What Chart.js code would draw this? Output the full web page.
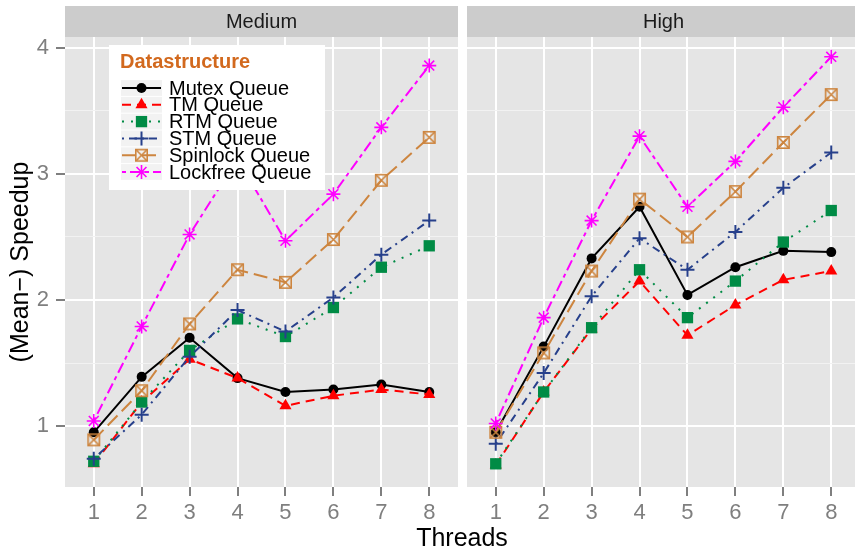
<!DOCTYPE html>
<html><head><meta charset="utf-8">
<script src="https://cdn.jsdelivr.net/npm/chart.js@4/dist/chart.umd.min.js"></script>
<style>
html,body{margin:0;padding:0;background:#fff;overflow:hidden;width:855px;height:549px;}
#wrap{position:relative;width:855px;height:549px;overflow:hidden;}
.box{position:absolute;top:0;height:549px;}
#xtitle{position:absolute;left:0;width:924px;top:523px;line-height:28px;text-align:center;font-size:25px;font-family:"Liberation Sans",Arial,sans-serif;color:#000;}
</style></head>
<body>
<div id="wrap">
  <div class="box" style="left:0;width:458px;"><canvas id="cMed" width="458" height="549"></canvas></div>
  <div class="box" style="left:467px;width:393px;"><canvas id="cHigh" width="393" height="549"></canvas></div>
  <div id="xtitle">Threads</div>
</div>
<script>
// ---- data ----
const threads = [1, 2, 3, 4, 5, 6, 7, 8];
const panelTitles = ['Medium', 'High'];
const seriesNames = ['Mutex Queue', 'TM Queue', 'RTM Queue', 'STM Queue', 'Spinlock Queue', 'Lockfree Queue'];
const yTickValues = [1, 2, 3, 4];
const legendTitle = 'Datastructure';
const xTitle = 'Threads';
const yTitle = '(Mean\u2212) Speedup';

const mediumMutex    = [0.95, 1.39, 1.70, 1.38, 1.27, 1.29, 1.33, 1.27];
const mediumTM       = [0.70, 1.19, 1.53, 1.38, 1.16, 1.24, 1.29, 1.25];
const mediumRTM      = [0.72, 1.19, 1.60, 1.85, 1.71, 1.94, 2.26, 2.43];
const mediumSTM      = [0.74, 1.09, 1.55, 1.92, 1.75, 2.02, 2.36, 2.63];
const mediumSpinlock = [0.89, 1.28, 1.81, 2.24, 2.14, 2.48, 2.95, 3.29];
const mediumLockfree = [1.04, 1.79, 2.52, 3.12, 2.47, 2.84, 3.37, 3.86];

const highMutex      = [0.95, 1.63, 2.33, 2.74, 2.04, 2.26, 2.39, 2.38];
const highTM         = [0.69, 1.27, 1.77, 2.15, 1.72, 1.96, 2.16, 2.23];
const highRTM        = [0.70, 1.27, 1.78, 2.24, 1.86, 2.15, 2.46, 2.71];
const highSTM        = [0.86, 1.42, 2.03, 2.49, 2.24, 2.54, 2.89, 3.17];
const highSpinlock   = [0.95, 1.58, 2.23, 2.80, 2.50, 2.86, 3.25, 3.63];
const highLockfree   = [1.02, 1.86, 2.63, 3.30, 2.74, 3.10, 3.53, 3.93];

const mediumSeries = [mediumMutex, mediumTM, mediumRTM, mediumSTM, mediumSpinlock, mediumLockfree];
const highSeries   = [highMutex, highTM, highRTM, highSTM, highSpinlock, highLockfree];

// ---- styles ----
const FONT = '"Liberation Sans", Arial, Helvetica, sans-serif';
const colors = ['#000000', '#FF0000', '#008B45', '#27408B', '#CD853F', '#FF00FF'];
const dashes = [[], [9, 6], [2, 7], [2, 5, 8, 5], [14, 6], [4, 4, 11, 4]];

function boxedX(color) {
  const s = 15, c = document.createElement('canvas');
  c.width = s; c.height = s;
  const g = c.getContext('2d');
  g.strokeStyle = color; g.lineWidth = 1.6;
  const p = 1.8;
  g.strokeRect(p, p, s - 2 * p, s - 2 * p);
  g.beginPath();
  g.moveTo(p, p); g.lineTo(s - p, s - p);
  g.moveTo(s - p, p); g.lineTo(p, s - p);
  g.stroke();
  return c;
}
const markers = [
  {style: 'circle', radius: 5, bw: 0},
  {style: 'triangle', radius: 7, bw: 0},
  {style: 'rect', radius: 8, bw: 0},
  {style: 'cross', radius: 7, bw: 2},
  {style: boxedX('#CD853F'), radius: 7, bw: 0},
  {style: 'star', radius: 7, bw: 1.6}
];

function buildDatasets(seriesList) {
  return seriesList.map((vals, i) => ({
    label: seriesNames[i],
    data: threads.map((t, k) => ({x: t, y: vals[k]})),
    borderColor: colors[i],
    backgroundColor: colors[i],
    borderWidth: 2,
    borderDash: dashes[i],
    pointStyle: markers[i].style,
    pointRadius: markers[i].radius,
    pointBorderWidth: markers[i].bw,
    pointBackgroundColor: colors[i],
    pointBorderColor: colors[i],
    tension: 0,
    order: seriesList.length - i
  }));
}

const panelPlugin = {
  id: 'ggPanel',
  beforeDraw(chart, args, opts) {
    const {ctx, chartArea: a} = chart;
    ctx.save();
    ctx.fillStyle = '#E5E5E5';
    ctx.fillRect(a.left, a.top, a.right - a.left, a.bottom - a.top);
    ctx.fillStyle = '#CCCCCC';
    ctx.fillRect(a.left, 6, a.right - a.left, a.top - 6);
    ctx.fillStyle = '#1A1A1A';
    ctx.font = '20px ' + FONT;
    ctx.textAlign = 'center';
    ctx.textBaseline = 'middle';
    ctx.fillText(opts.title, (a.left + a.right) / 2, (6 + a.top) / 2 + 1);
    ctx.restore();
  }
};

const legendPlugin = {
  id: 'ggLegend',
  afterDatasetsDraw(chart, args, opts) {
    if (!opts.show) return;
    const ctx = chart.ctx;
    ctx.save();
    ctx.fillStyle = '#FFFFFF';
    ctx.fillRect(109, 45, 216, 145);
    ctx.fillStyle = '#D2691E';
    ctx.font = 'bold 20px ' + FONT;
    ctx.textAlign = 'left';
    ctx.textBaseline = 'middle';
    ctx.fillText(legendTitle, 120, 62);
    chart.data.datasets.forEach((ds, i) => {
      const yc = 88 + i * 16.8;
      ctx.fillStyle = '#F2F2F2';
      ctx.fillRect(121, yc - 7.9, 41, 15.8);
      ctx.strokeStyle = ds.borderColor;
      ctx.lineWidth = 2;
      ctx.setLineDash(ds.borderDash);
      ctx.beginPath();
      ctx.moveTo(122, yc); ctx.lineTo(161, yc);
      ctx.stroke();
      ctx.setLineDash([]);
      ctx.fillStyle = ds.pointBackgroundColor;
      ctx.strokeStyle = ds.pointBorderColor;
      ctx.lineWidth = ds.pointBorderWidth;
      Chart.helpers.drawPoint(ctx, {pointStyle: ds.pointStyle, radius: ds.pointRadius, rotation: 0, borderWidth: ds.pointBorderWidth}, 141.5, yc);
      ctx.fillStyle = '#000000';
      ctx.font = '20px ' + FONT;
      ctx.fillText(ds.label, 169, yc + 1);
    });
    ctx.restore();
  }
};

function makeChart(id, seriesList, title, showY) {
  const minorY = [1, 1.5, 2, 2.5, 3, 3.5, 4];
  return new Chart(document.getElementById(id), {
    type: 'line',
    data: {datasets: buildDatasets(seriesList)},
    plugins: [panelPlugin, legendPlugin],
    options: {
      responsive: false,
      animation: false,
      devicePixelRatio: 1,
      layout: {autoPadding: false, padding: {top: 37, left: 0, right: 0, bottom: 0}},
      plugins: {
        legend: {display: false},
        tooltip: {enabled: false},
        ggPanel: {title: title},
        ggLegend: {show: showY}
      },
      scales: {
        x: {
          type: 'linear', min: 0.4, max: 8.6,
          afterBuildTicks: s => { s.ticks = threads.map(v => ({value: v})); },
          afterFit: s => { s.height = 62; s.paddingLeft = 0; s.paddingRight = 0; },
          border: {display: false},
          grid: {color: '#FFFFFF', lineWidth: 2, tickColor: '#7F7F7F', tickLength: 9, tickWidth: 2},
          ticks: {color: '#7F7F7F', font: {family: FONT, size: 22}, padding: 4, maxRotation: 0, autoSkip: false,
                  callback: v => String(v)}
        },
        y: {
          type: 'linear', min: 0.516, max: 4.087,
          afterBuildTicks: s => { s.ticks = minorY.map(v => ({value: v})); },
          afterFit: s => { s.width = showY ? 65 : 0; s.paddingTop = 0; s.paddingBottom = 0; },
          border: {display: false},
          grid: {
            color: c => Number.isInteger(c.tick.value) ? '#FFFFFF' : '#F2F2F2',
            lineWidth: c => Number.isInteger(c.tick.value) ? 2 : 1,
            tickColor: c => Number.isInteger(c.tick.value) ? '#7F7F7F' : 'rgba(0,0,0,0)',
            tickLength: 9, tickWidth: 2, drawTicks: showY
          },
          ticks: {display: showY, color: '#7F7F7F', font: {family: FONT, size: 22}, padding: 7,
                  callback: v => yTickValues.includes(v) ? String(v) : ''},
          title: {display: showY, text: yTitle, color: '#000000', font: {family: FONT, size: 25}, padding: {top: 6, bottom: 0}}
        }
      }
    }
  });
}

document.getElementById('xtitle').textContent = xTitle;
makeChart('cMed', mediumSeries, panelTitles[0], true);
makeChart('cHigh', highSeries, panelTitles[1], false);
</script>
</body></html>
